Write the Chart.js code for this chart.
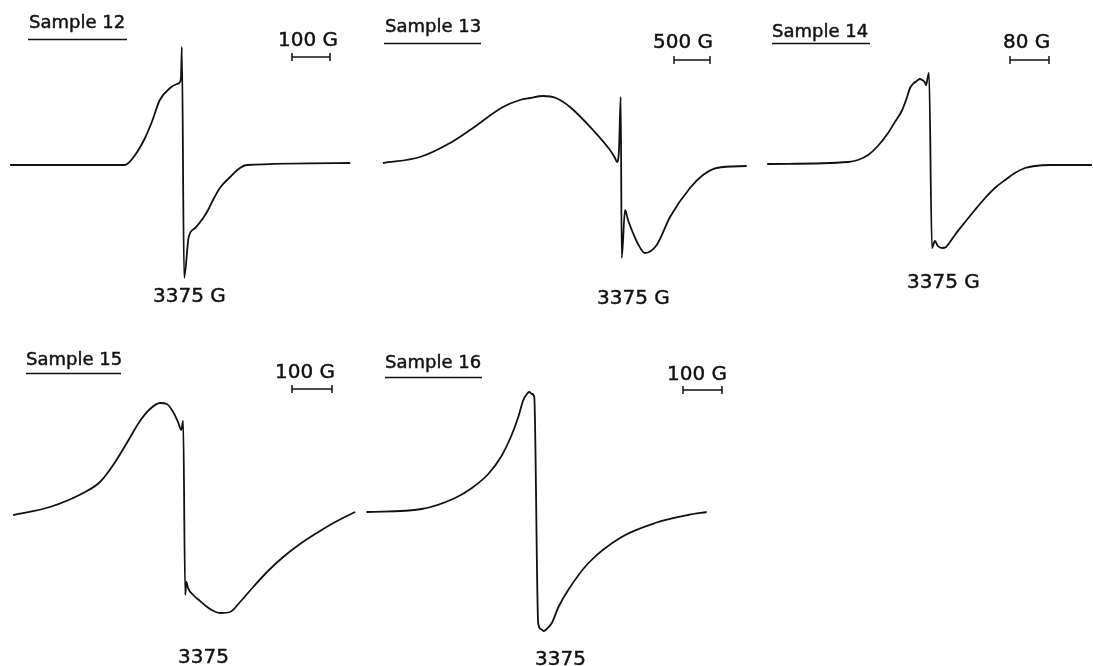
<!DOCTYPE html>
<html>
<head>
<meta charset="utf-8">
<script src="https://cdn.jsdelivr.net/npm/chart.js@4.4.1/dist/chart.umd.min.js"></script>
<style>
  html, body { margin: 0; padding: 0; background: #fff; }
  #fig { position: relative; width: 1093px; height: 666px; overflow: hidden; background: #fff; }
  #fig canvas { position: absolute; }
</style>
</head>
<body>
<div id="fig"></div>
<script>
// First-derivative EPR spectra: field in gauss, signal in arbitrary units (0 = baseline)
const centreField = 3375;

const s12Field  = [2920, 3222, 3249, 3275, 3293, 3314, 3341, 3359, 3367, 3370, 3372, 3378, 3390, 3407, 3428, 3441, 3454, 3472, 3499, 3525, 3543, 3815];
const s12Signal = [0, 0, 10, 27, 43, 65, 77, 81, 83, 90, 118, -113, -72, -63, -53, -45, -35, -23, -12, -3, 0, 2];

const s13Field  = [69, 583, 1000, 1278, 1736, 1972, 2111, 2292, 2472, 2667, 2986, 3222, 3292, 3319, 3347, 3371, 3385, 3431, 3472, 3542, 3611, 3708, 3871, 4056, 4333, 4514, 4704, 5121];
const s13Signal = [2, 8, 22, 35, 58, 65, 67, 69, 67, 58, 35, 15, 7, 3, 15, 68, -93, -45, -55, -68, -79, -88, -80, -52, -23, -10, -3, -1];

const s14Field  = [3040, 3206, 3226, 3247, 3267, 3288, 3302, 3317, 3327, 3333, 3341, 3347, 3353, 3358, 3363, 3366, 3369, 3372, 3378, 3384, 3390, 3399, 3407, 3415, 3425, 3446, 3466, 3487, 3507, 3528, 3548, 3569, 3589, 3620, 3706];
const s14Signal = [0, 2, 4, 9, 18, 31, 42, 54, 67, 76, 81, 83, 85, 84, 82, 79, 86, 91, -84, -77, -82, -84, -83, -78, -71, -58, -46, -34, -24, -16, -9, -4, -2, -1, -1];

const s15Field  = [2948, 3040, 3123, 3165, 3198, 3232, 3265, 3290, 3315, 3332, 3348, 3361, 3368, 3373, 3378, 3381, 3385, 3398, 3415, 3440, 3465, 3490, 3515, 3548, 3585, 3623, 3665, 3707, 3753, 3803];
const s15Signal = [-5, 3, 17, 28, 45, 67, 89, 101, 107, 106, 98, 87, 80, 89, -85, -72, -78, -85, -91, -99, -103, -102, -92, -77, -61, -47, -34, -23, -12, -2];

const s16Field  = [2938, 3079, 3165, 3208, 3250, 3284, 3310, 3327, 3340, 3349, 3355, 3362, 3368, 3378, 3385, 3392, 3400, 3413, 3430, 3455, 3507, 3592, 3678, 3763, 3810];
const s16Signal = [0, 3, 14, 24, 38, 56, 77, 95, 112, 118, 120, 118, 115, -111, -117, -119, -117, -111, -95, -78, -51, -25, -11, -3, 0];

const sampleNames  = ['Sample 12', 'Sample 13', 'Sample 14', 'Sample 15', 'Sample 16'];
const barLengths   = [100, 500, 80, 100, 100];          // gauss
const barLabels    = ['100 G', '500 G', '80 G', '100 G', '100 G'];
const centreLabels = ['3375 G', '3375 G', '3375 G', '3375', '3375'];

const fields  = [s12Field, s13Field, s14Field, s15Field, s16Field];
const signals = [s12Signal, s13Signal, s14Signal, s15Signal, s16Signal];

// Page layout of each panel (page pixels): canvas box, where 3375 G sits,
// baseline height, scale-bar pixel length and placement, text anchors.
const layout = [
  { left: 0,   top: 0,   w: 368, h: 310, cx: 183,   y0: 165, barPx: 38, barLeft: 292,  barTop: 57,
    title: [29, 28, 28, 127, 39],   barText: [278, 46],  centre: [153, 302] },
  { left: 368, top: 0,   w: 387, h: 320, cx: 621,   y0: 165, barPx: 36, barLeft: 674,  barTop: 60,
    title: [385, 32, 384, 481, 43], barText: [653, 48],  centre: [597, 304] },
  { left: 755, top: 0,   w: 338, h: 310, cx: 930.5, y0: 164, barPx: 39, barLeft: 1010, barTop: 60,
    title: [772, 37, 772, 870, 43], barText: [1003, 48], centre: [907, 288] },
  { left: 0,   top: 330, w: 360, h: 336, cx: 184,   y0: 510, barPx: 40, barLeft: 292,  barTop: 389,
    title: [26, 365, 26, 121, 373], barText: [275, 378], centre: [178, 663] },
  { left: 360, top: 330, w: 380, h: 336, cx: 537,   y0: 512, barPx: 39, barLeft: 683,  barTop: 390,
    title: [385, 368, 385, 482, 377], barText: [667, 380], centre: [535, 665] }
];

const INK = '#111';
const FONT = '"DejaVu Sans", "Liberation Sans", sans-serif';

// Draws the panel captions, underline, scale-bar label and field label
const panelText = {
  id: 'panelText',
  afterDraw(chart, args, opts) {
    const { ctx } = chart;
    const L = opts.box;
    const put = (text, x, y) => {
      ctx.fillText(text, x - L.left, y - L.top);
      ctx.strokeText(text, x - L.left, y - L.top);
    };
    ctx.save();
    ctx.fillStyle = INK;
    ctx.strokeStyle = INK;
    ctx.textBaseline = 'alphabetic';
    ctx.textAlign = 'left';
    ctx.lineWidth = 0.45;
    ctx.font = '18px ' + FONT;
    put(opts.title, L.title[0], L.title[1]);
    ctx.font = '20px ' + FONT;
    put(opts.barLabel, L.barText[0], L.barText[1]);
    put(opts.centreLabel, L.centre[0], L.centre[1]);
    ctx.lineWidth = 1.5;
    ctx.beginPath();
    ctx.moveTo(L.title[2] - L.left, L.title[4] - L.top + 0.5);
    ctx.lineTo(L.title[3] - L.left, L.title[4] - L.top + 0.5);
    ctx.stroke();
    ctx.restore();
  }
};

const fig = document.getElementById('fig');

layout.forEach((L, i) => {
  const gpp = barLengths[i] / L.barPx;               // gauss per pixel
  const xMin = centreField - (L.cx - L.left) * gpp;
  const xMax = xMin + L.w * gpp;
  const yMax = L.y0 - L.top;
  const yMin = yMax - L.h;
  const barStart = centreField + (L.barLeft - L.cx) * gpp;
  const barY = L.y0 - L.barTop;

  const canvas = document.createElement('canvas');
  canvas.width = L.w;
  canvas.height = L.h;
  canvas.style.left = L.left + 'px';
  canvas.style.top = L.top + 'px';
  canvas.style.width = L.w + 'px';
  canvas.style.height = L.h + 'px';
  fig.appendChild(canvas);

  new Chart(canvas, {
    type: 'line',
    data: {
      datasets: [
        {
          data: fields[i].map((f, k) => ({ x: f, y: signals[i][k] })),
          borderColor: INK,
          borderWidth: 1.8,
          pointRadius: 0,
          cubicInterpolationMode: 'monotone',
          fill: false,
          clip: false
        },
        {
          data: [{ x: barStart, y: barY }, { x: barStart + barLengths[i], y: barY }],
          borderColor: INK,
          borderWidth: 1.5,
          pointStyle: 'line',
          rotation: 90,
          pointRadius: 4,
          pointBorderWidth: 1.5,
          pointBorderColor: INK,
          fill: false,
          clip: false
        }
      ]
    },
    options: {
      responsive: false,
      maintainAspectRatio: false,
      animation: false,
      events: [],
      layout: { padding: 0, autoPadding: false },
      plugins: {
        legend: { display: false },
        tooltip: { enabled: false },
        panelText: {
          box: L,
          title: sampleNames[i],
          barLabel: barLabels[i],
          centreLabel: centreLabels[i]
        }
      },
      scales: {
        x: { type: 'linear', display: false, min: xMin, max: xMax },
        y: { type: 'linear', display: false, min: yMin, max: yMax }
      }
    },
    plugins: [panelText]
  });
});
</script>
</body>
</html>
